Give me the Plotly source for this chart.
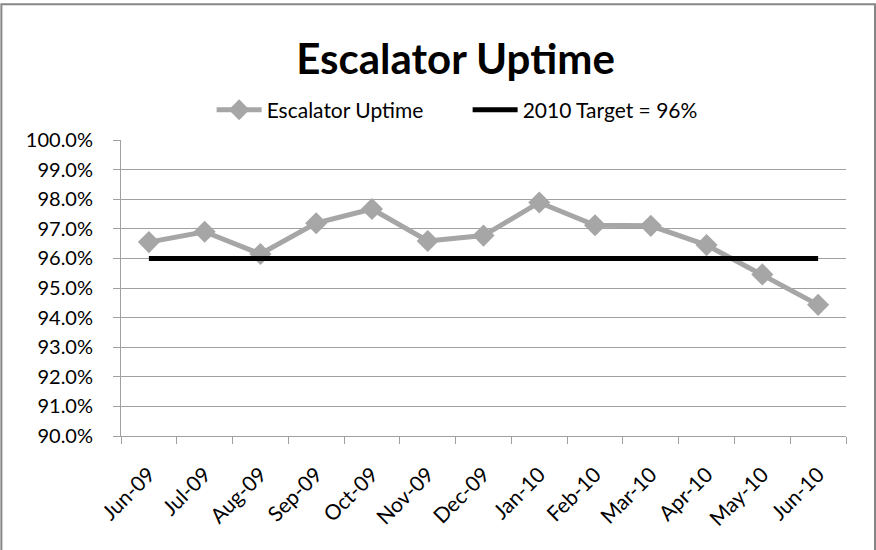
import plotly.graph_objects as go

# 資料
months = ['Jun-09', 'Jul-09', 'Aug-09', 'Sep-09', 'Oct-09', 'Nov-09', 'Dec-09',
          'Jan-10', 'Feb-10', 'Mar-10', 'Apr-10', 'May-10', 'Jun-10']
uptime = [96.55, 96.9, 96.15, 97.19, 97.67, 96.59, 96.77,
          97.89, 97.12, 97.1, 96.45, 95.46, 94.43]
target = [96.0] * len(months)
y_ticks = [90, 91, 92, 93, 94, 95, 96, 97, 98, 99, 100]
y_labels = [f'{v:.1f}%' for v in y_ticks]

FONT = 'Lato'
GRID = '#a0a0a0'

fig = go.Figure()

fig.add_trace(go.Scatter(x=months, y=uptime,
                         mode='lines+markers',
                         name='Escalator Uptime',
                         line=dict(color='#a6a6a6', width=5),
                         marker=dict(symbol='diamond', size=17, color='#a6a6a6')))

fig.add_trace(go.Scatter(x=months, y=target,
                         mode='lines',
                         name='2010 Target = 96%',
                         line=dict(color='black', width=5)))

# x軸: 刻度線在類別邊界
fig.update_xaxes(type='category',
                 range=[-0.5, len(months) - 0.5],
                 tickson='boundaries',
                 ticks='outside', ticklen=7, tickcolor=GRID,
                 showline=True, linecolor=GRID, linewidth=1,
                 showgrid=False, automargin=False,
                 tickangle=-45, ticklabelstandoff=17,
                 tickfont=dict(family=FONT, size=21, color='black'))

fig.update_yaxes(range=[90, 100],
                 tickvals=y_ticks, ticktext=y_labels,
                 ticks='outside', ticklen=7, tickcolor=GRID,
                 showline=True, linecolor=GRID, linewidth=1,
                 showgrid=True, gridcolor=GRID, gridwidth=1,
                 zeroline=False, automargin=False,
                 ticklabelstandoff=16,
                 tickfont=dict(family=FONT, size=20, color='black'))

# 外框
fig.add_shape(type='rect', xref='paper', yref='paper',
              x0=-0.165, x1=1.04, y0=-0.6, y1=1.459,
              line=dict(color='#868686', width=2))

fig.update_layout(width=876, height=550,
                  margin=dict(l=121, r=30, t=140, b=114, autoexpand=False),
                  paper_bgcolor='white', plot_bgcolor='white',
                  title=dict(text='<b>Escalator Uptime</b>',
                             x=0.52, xanchor='center',
                             yref='container', y=0.893, yanchor='middle',
                             font=dict(family=FONT, size=42, color='black')),
                  legend=dict(orientation='h', x=0.125, xanchor='left',
                              y=1.101, yanchor='middle',
                              font=dict(family=FONT, size=21, color='black'),
                              entrywidth=196, itemwidth=45, tracegroupgap=0),
                  showlegend=True)

fig.write_html("out.html", config={'displayModeBar': False},
               post_script="document.body.style.margin='0';")
